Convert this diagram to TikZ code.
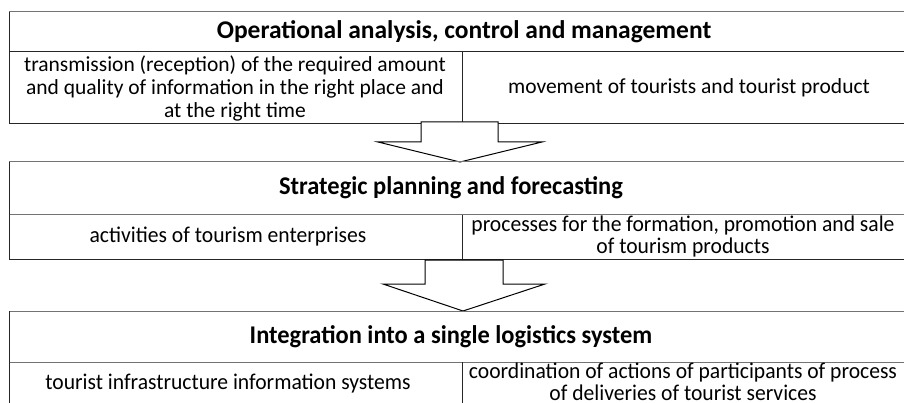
\documentclass[tikz,border=0pt]{standalone}
\usepackage{fontspec}
\setmainfont{Carlito}
\newfontfamily\condfont[FakeStretch=0.96]{Carlito}
\begin{document}
\begin{tikzpicture}[x=1pt,y=-1pt,
  gline/.style={draw=black!55,line width=1pt},
  dline/.style={draw=black!85,line width=1pt},
  barrow/.style={draw=black,line width=1pt,fill=white,line join=miter},
  ttl/.style={font=\fontsize{25.5}{30}\selectfont\bfseries,inner sep=0pt},
  body/.style={font=\fontsize{21.5}{23}\selectfont,inner sep=0pt,align=center},
  cttl/.style={font=\condfont\fontsize{25.5}{28}\selectfont\bfseries,inner sep=0pt},
  cbody/.style={font=\condfont\fontsize{22.5}{22}\selectfont,inner sep=0pt,align=center}]
\useasboundingbox (0,0) rectangle (904,403);
\fill[white] (0,0) rectangle (904,403);
% block 1
\draw[gline] (9,12) -- (904,12);
\draw[dline] (9,52) -- (904,52);
\draw[dline] (9,124) -- (904,124);
\draw[dline] (9,12) -- (9,124);
\draw[dline] (462,52) -- (462,124);
\node[ttl] (t1) at (464,32) {Operational analysis, control and management};
\node[body] (l1) at (235,88) {transmission (reception) of the required amount\\and quality of information in the right place and\\at the right time};
\node[body] (r1) at (689,88) {movement of tourists and tourist product};
% arrow 1
\draw[barrow] (421,122) -- (498,122) -- (498,142) -- (542,142) -- (460,162) -- (378,142) -- (421,142) -- cycle;
% block 2
\draw[gline] (9,162) -- (904,162);
\draw[gline] (9,215) -- (904,215);
\draw[dline] (9,259) -- (904,259);
\draw[dline] (9,162) -- (9,259);
\draw[dline] (462,215) -- (462,259);
\node[cttl] (t2) at (451,188) {Strategic planning and forecasting};
\node[cbody] (l2) at (228,237) {activities of tourism enterprises};
\node[cbody] (r2) at (683,237) {processes for the formation, promotion and sale\\of tourism products};
% arrow 2
\draw[barrow] (425,260) -- (503,260) -- (503,284) -- (545,284) -- (463,311) -- (383,284) -- (425,284) -- cycle;
% block 3
\draw[gline] (9,311) -- (904,311);
\draw[gline] (9,362) -- (904,362);
\draw[dline] (9,311) -- (9,403);
\draw[dline] (462,362) -- (462,403);
\node[cttl] (t3) at (451,337) {Integration into a single logistics system};
\node[cbody] (l3) at (228,384) {tourist infrastructure information systems};
\node[cbody] (r3) at (683,382) {coordination of actions of participants of process\\of deliveries of tourist services};
\end{tikzpicture}
\end{document}
